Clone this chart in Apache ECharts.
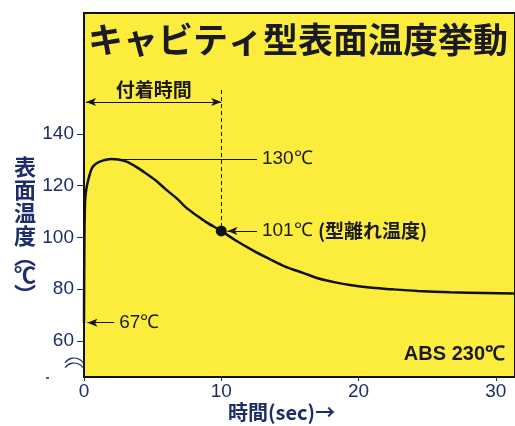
<!DOCTYPE html>
<html><head><meta charset="utf-8">
<script src="https://cdn.jsdelivr.net/npm/echarts@6/dist/echarts.min.js"></script>
<style>html,body{margin:0;padding:0;background:#fff}#c{width:515px;height:426px}</style>
</head><body><div id="c"></div>
<script>
// ---- data ----
const times = [0, 0.03, 0.08, 0.15, 0.3, 0.55, 0.8, 1.16, 1.6, 2.0, 2.5, 3.1, 3.8, 4.5, 5.3, 6.0, 6.8, 7.4, 8.2, 8.9, 10, 11, 12.3, 13.5, 14.7, 16, 17.1, 18.3, 19.5, 21, 22.5, 24.3, 26.7, 29.2, 31.4];
const temps = [67, 100, 114, 118, 122, 126.5, 128.2, 129.3, 130, 130.3, 130.1, 129.3, 127.3, 124.8, 121.7, 118.4, 114.9, 111.7, 108.5, 105.9, 102.5, 99, 95, 91.7, 88.6, 86.2, 84.1, 82.6, 81.5, 80.5, 79.9, 79.3, 78.8, 78.5, 78.3];
const xTicks = [0, 10, 20, 30];
const yTicks = [60, 80, 100, 120, 140];
const peakTemp = 130.3, peakTime = 2;
const releaseTime = 10, releaseTemp = 102.5;
const startTemp = 67;
const titleText = 'キャビティ型表面温度挙動';

const NAVY = '#1d2c6b';
const chart = echarts.init(document.getElementById('c'));
chart.setOption({
  animation: false,
  grid: {left: 84, top: 13, right: -2, bottom: 49, show: true, backgroundColor: '#FCEC3C', borderColor: '#111', borderWidth: 2},
  xAxis: {
    type: 'value', min: 0, max: 31.4,
    axisLine: {show: true, onZero: false, lineStyle: {color: '#111', width: 2}},
    axisTick: {show: true, length: 4, customValues: xTicks, lineStyle: {color: NAVY}},
    axisLabel: {customValues: xTicks, color: NAVY, fontSize: 19, fontFamily: 'Liberation Sans', margin: 5},
    splitLine: {show: false}
  },
  yAxis: {
    type: 'value', min: 46, max: 186.8,
    axisLine: {show: true, onZero: false, lineStyle: {color: '#111', width: 2}},
    axisTick: {show: true, length: 7, customValues: yTicks, lineStyle: {color: NAVY}},
    axisLabel: {customValues: yTicks, color: NAVY, fontSize: 19, fontFamily: 'Liberation Sans', margin: 10},
    splitLine: {show: false}
  },
  graphic: [
    {type: 'text', left: 88, top: 22, style: {text: titleText, font: 'bold 35px "Noto Sans CJK JP"', fill: '#1a1a24'}},
    {type: 'text', left: 14, top: 156, style: {
      text: '{a|表}\n{a|面}\n{a|温}\n{a|度}\n{p|︵}\n{a|℃}\n{p|︶}',
      rich: {
        a: {font: 'bold 22px "Noto Sans CJK JP"', fill: NAVY, lineHeight: 23},
        p: {font: 'bold 22px "Noto Sans CJK JP"', fill: NAVY, lineHeight: 16}
      }
    }},
    {type: 'text', right: 10, top: 344, style: {text: 'ABS 230℃', font: 'bold 20px "Liberation Sans"', fill: '#1a1a24'}},
    {type: 'text', left: 228, top: 402, style: {text: '時間(sec)→', font: 'bold 20px "Noto Sans CJK JP"', fill: NAVY}},
    {type: 'arc', shape: {cx: 74, cy: 369, r: 11, startAngle: Math.PI * 1.2, endAngle: Math.PI * 1.8}, style: {stroke: NAVY, lineWidth: 1.2, fill: null}},
    {type: 'arc', shape: {cx: 74, cy: 374, r: 11, startAngle: Math.PI * 1.2, endAngle: Math.PI * 1.8}, style: {stroke: NAVY, lineWidth: 1.2, fill: null}},
    {type: 'line', shape: {x1: 46, y1: 378, x2: 49, y2: 378}, style: {stroke: NAVY, lineWidth: 1.5}}
  ],
  series: [
    {
      type: 'line', data: times.map((t, i) => [t, temps[i]]), smooth: 0.3, showSymbol: false,
      lineStyle: {color: '#111', width: 2.5}, z: 3,
      markLine: {
        silent: true, animation: false,
        lineStyle: {color: '#111', width: 1, type: 'solid'},
        label: {color: '#1a1a24', fontSize: 19, fontFamily: 'Liberation Sans'},
        data: [
          [{coord: [peakTime, peakTemp], symbol: 'none'}, {coord: [12.6, peakTemp], symbol: 'none', label: {position: 'end', formatter: '130℃'}}],
          [{coord: [releaseTime, 157], symbol: 'none', lineStyle: {type: [4, 3]}}, {coord: [releaseTime, releaseTemp], symbol: 'none', label: {show: false}}],
          [{coord: [0.15, 152.4], symbol: 'arrow', symbolSize: [6, 10]}, {coord: [releaseTime, 152.4], symbol: 'arrow', symbolSize: [6, 10], label: {position: 'insideMiddleTop', distance: 3, formatter: '付着時間', fontFamily: 'Noto Sans CJK JP', fontWeight: 'bold', fontSize: 19}}],
          [{coord: [10.45, releaseTemp], symbol: 'arrow', symbolSize: [6, 10]}, {coord: [12.6, releaseTemp], symbol: 'none', label: {position: 'end', formatter: '{a|101℃ }{b|(型離れ温度)}', rich: {a: {fontSize: 19, fontFamily: 'Liberation Sans', color: '#1a1a24'}, b: {fontSize: 19, fontFamily: 'Noto Sans CJK JP', fontWeight: 'bold', color: '#1a1a24'}}}}],
          [{coord: [0.25, startTemp], symbol: 'arrow', symbolSize: [6, 10]}, {coord: [2.2, startTemp], symbol: 'none', label: {position: 'end', formatter: '67℃'}}]
        ]
      }
    },
    {
      type: 'scatter', data: [[releaseTime, releaseTemp]], symbolSize: 11, itemStyle: {color: '#111', opacity: 1}, z: 4
    }
  ]
});
</script></body></html>
